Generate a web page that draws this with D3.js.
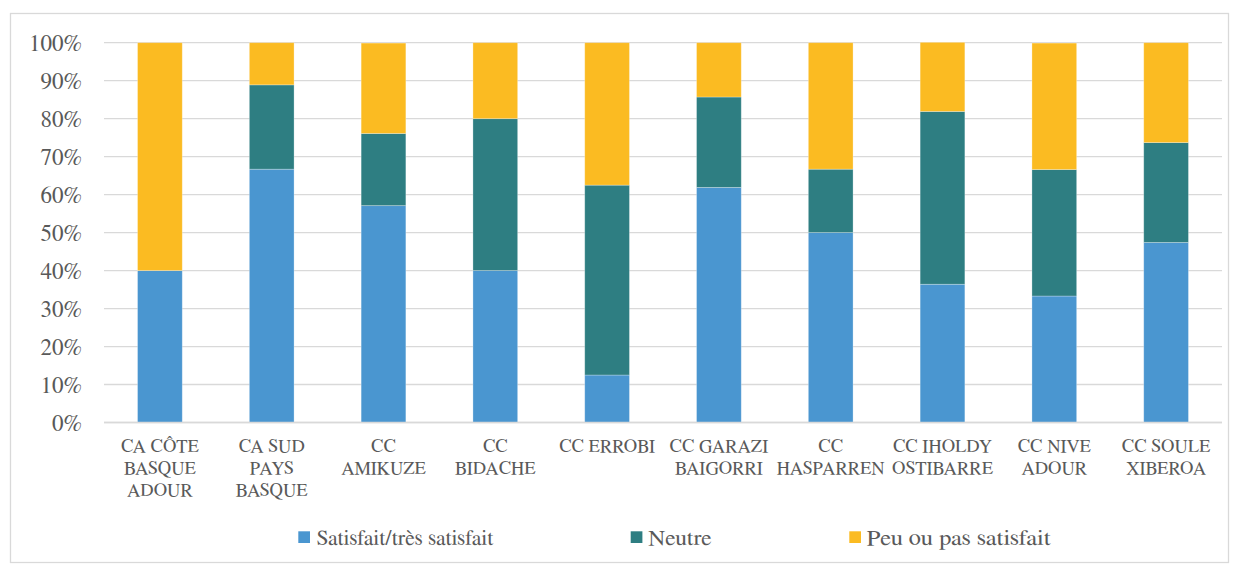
<!DOCTYPE html>
<html>
<head>
<meta charset="utf-8">
<script src="https://cdn.jsdelivr.net/npm/d3@7"></script>
<style>
  html, body { margin: 0; padding: 0; background: #fff; }
  svg { display: block; }
</style>
</head>
<body>
<svg id="chart" width="1239" height="565"></svg>
<script>
// ---- data ----
const categories = [
  ["CA CÔTE", "BASQUE", "ADOUR"],
  ["CA SUD", "PAYS", "BASQUE"],
  ["CC", "AMIKUZE"],
  ["CC", "BIDACHE"],
  ["CC ERROBI"],
  ["CC GARAZI", "BAIGORRI"],
  ["CC", "HASPARREN"],
  ["CC IHOLDY", "OSTIBARRE"],
  ["CC NIVE", "ADOUR"],
  ["CC SOULE", "XIBEROA"]
];
const seriesNames = ["Satisfait/très satisfait", "Neutre", "Peu ou pas satisfait"];
const satisfait = [40.0, 66.7, 57.1, 40.0, 12.5, 61.9, 50.0, 36.4, 33.3, 47.4];
const neutre    = [ 0.0, 22.2, 19.0, 40.0, 50.0, 23.8, 16.7, 45.5, 33.3, 26.3];
const peu       = [60.0, 11.1, 23.8, 20.0, 37.5, 14.3, 33.3, 18.2, 33.3, 26.3];
const yTicks = [0, 10, 20, 30, 40, 50, 60, 70, 80, 90, 100];
const colors = ["#4a96d0", "#2e7e82", "#fbbb22"];

const FONT = "FreeSerif";

// ---- layout ----
const svg = d3.select("#chart");
const plot = { left: 104, right: 1222, top: 42.7, bottom: 422.5 };

svg.append("rect")
  .attr("x", 10.5).attr("y", 13.5)
  .attr("width", 1218).attr("height", 549)
  .attr("fill", "#fff").attr("stroke", "#d9d9d9").attr("stroke-width", 1.3);

const keys = categories.map((c, i) => i);
const x = d3.scaleBand().domain(keys).range([plot.left, plot.right]).paddingInner(0.6).paddingOuter(0.3);
const y = d3.scaleLinear().domain([0, 100]).range([plot.bottom, plot.top]);

// gridlines
svg.append("g").selectAll("line").data(yTicks).join("line")
  .attr("x1", plot.left).attr("x2", plot.right)
  .attr("y1", d => y(d)).attr("y2", d => y(d))
  .attr("stroke", "#d9d9d9").attr("stroke-width", 1.3);

// y tick labels
yTicks.forEach(d => {
  svg.append("text")
    .attr("x", 82).attr("y", y(d) + 8)
    .attr("text-anchor", "end")
    .attr("font-family", FONT)
    .attr("font-size", 23)
    .attr("fill", "#595959")
    .text(d + "%");
});

// stacked data
const rows = keys.map(i => ({ i, s0: satisfait[i], s1: neutre[i], s2: peu[i] }));
const stacked = d3.stack().keys(["s0", "s1", "s2"])(rows);

svg.append("g").selectAll("g").data(stacked).join("g")
  .attr("fill", (d, k) => colors[k])
  .selectAll("rect").data(d => d).join("rect")
  .attr("x", d => x(d.data.i))
  .attr("width", x.bandwidth())
  .attr("y", d => y(d[1]))
  .attr("height", d => Math.max(0, y(d[0]) - y(d[1])))
  .attr("stroke", "#ffffff")
  .attr("stroke-opacity", 0.35)
  .attr("stroke-width", 0.8);

// axis line
svg.append("line")
  .attr("x1", plot.left).attr("x2", plot.right)
  .attr("y1", plot.bottom).attr("y2", plot.bottom)
  .attr("stroke", "#d9d9d9").attr("stroke-width", 1.5);

// category labels
categories.forEach((lines, i) => {
  lines.forEach((ln, j) => {
    svg.append("text")
      .attr("x", x(i) + x.bandwidth() / 2)
      .attr("y", 452.3 + j * 21.7)
      .attr("text-anchor", "middle")
      .attr("font-family", FONT)
      .attr("font-size", 18.5)
      .attr("fill", "#595959")
      .text(ln);
  });
});

// legend
const legendPos = [
  { sq: 298.3, tx: 316.7, w: 176.6 },
  { sq: 630.7, tx: 648.3, w: 63.4 },
  { sq: 849.3, tx: 866.7, w: 184 }
];
seriesNames.forEach((name, k) => {
  svg.append("rect")
    .attr("x", legendPos[k].sq).attr("y", 531.3)
    .attr("width", 11.7).attr("height", 11.7)
    .attr("fill", colors[k]);
  svg.append("text")
    .attr("x", legendPos[k].tx).attr("y", 545.3)
    .attr("font-family", FONT)
    .attr("font-size", 22)
    .attr("textLength", legendPos[k].w)
    .attr("lengthAdjust", "spacingAndGlyphs")
    .attr("fill", "#595959")
    .text(name);
});
</script>
</body>
</html>
